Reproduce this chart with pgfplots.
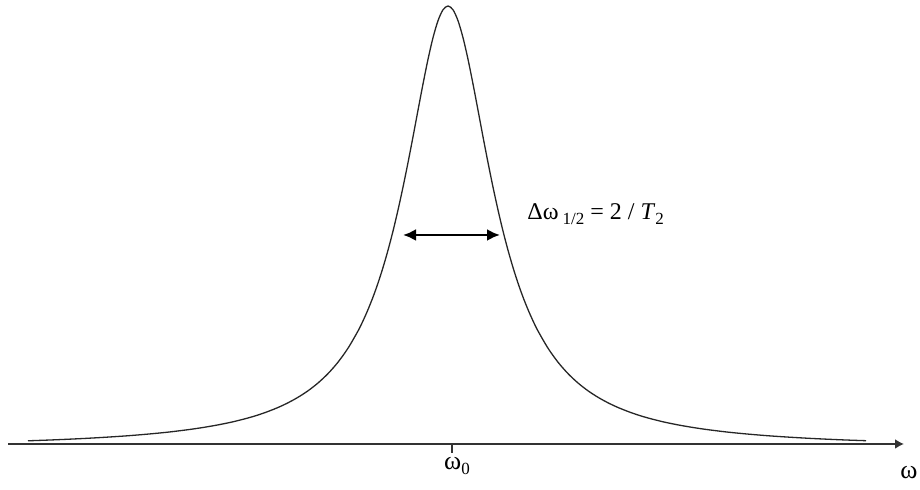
\documentclass[border=0pt]{standalone}
\usepackage{fontspec}
\setmainfont{Liberation Serif}
\usepackage{pgfplots}
\pgfplotsset{compat=1.18}
\usetikzlibrary{arrows.meta}

\newcommand{\lowsub}[1]{\raisebox{-0.45ex}{\fontsize{8.5}{9}\selectfont #1}}

\begin{document}
\begin{tikzpicture}
\begin{axis}[
  x=0.5pt, y=0.5pt,
  xmin=-448, xmax=472, ymin=-46, ymax=444,
  hide axis, clip=false,
]
% frame of the drawing area (invisible)
\path (axis cs:-448,-46) rectangle (axis cs:472,444);

% frequency axis with arrow
\draw[line width=0.9pt, black!80, -{Latex[length=4.5pt,width=5pt]}]
  (axis cs:-440,0) -- (axis cs:456,0);
% tick at the resonance frequency
\draw[line width=0.7pt, black!80] (axis cs:4,0) -- (axis cs:4,-9);

% Lorentzian line shape
\addplot[smooth, line width=0.65pt, black!85] coordinates {
  (-420,3.2) (-400,3.91) (-380,4.75) (-360,5.73) (-340,6.9) (-320,8.24)
  (-300,9.9) (-280,11.85) (-260,14.3) (-245,16.5) (-230,19.1) (-215,22.2)
  (-200,26.0) (-190,29.0) (-180,32.5) (-170,36.5) (-160,41.2) (-150,46.7)
  (-140,53.2) (-130,61.0) (-120,70.4) (-110,81.8) (-100,95.8)
  (-90,113.0) (-85,123.1) (-80,134.4) (-75,146.9) (-70,160.9) (-65,176.5)
  (-60,193.8) (-55,212.9) (-50,234.0)
  (-45,256.9) (-40,281.4) (-35,307.2) (-30,333.8) (-25,360.0) (-20,384.7)
  (-15,406.3) (-10,423.3) (-5,434.2) (0,438)
  (5,434.2) (10,423.3) (15,406.3) (20,384.7) (25,360.0) (30,333.8)
  (35,307.2) (40,281.4) (45,256.9) (50,234.0) (55,212.9) (60,193.8)
  (65,176.5) (70,160.9) (75,146.9) (80,134.4) (85,123.1) (90,113.0)
  (100,95.8) (110,81.8) (120,70.4) (130,61.0) (140,53.2) (150,46.7)
  (160,41.2) (170,36.5) (180,32.5) (190,29.0) (200,26.0) (215,22.2)
  (230,19.1) (245,16.5) (260,14.3) (280,11.85) (300,9.9) (320,8.24)
  (340,6.9) (360,5.73) (380,4.75) (400,3.91) (418,3.3)
};

% linewidth marker
\draw[line width=1.2pt, black,
  {Latex[length=6.5pt,width=6pt]}-{Latex[length=6.5pt,width=6pt]}]
  (axis cs:-45,209) -- (axis cs:52,209);
\node[anchor=base west, inner sep=0pt, font=\fontsize{12}{14}\selectfont]
  at (axis cs:79,224) {Δω\,\lowsub{1/2} = 2 / \textit{T}\lowsub{2}};

% axis labels
\node[inner sep=0pt, font=\fontsize{13}{15}\selectfont]
  at (axis cs:9,-22) {ω\lowsub{0}};
\node[inner sep=0pt, font=\fontsize{13}{15}\selectfont]
  at (axis cs:461,-29) {ω};
\end{axis}
\end{tikzpicture}
\end{document}
